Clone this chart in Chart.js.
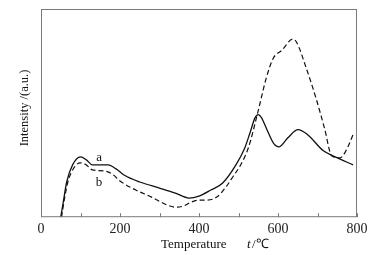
<!DOCTYPE html>
<html>
<head>
<meta charset="utf-8">
<script src="https://cdn.jsdelivr.net/npm/chart.js@4/dist/chart.umd.min.js"></script>
<style>
  html, body { margin: 0; padding: 0; background: #fff; }
  #wrap { width: 376px; height: 255px; }
</style>
</head>
<body>
<div id="wrap"><canvas id="chart1"></canvas></div>
<script>
// curve a (solid)
const tempA = [50, 56, 65, 80, 100, 115, 130, 150, 170, 190, 210, 250, 300, 340, 375, 400, 430, 460, 495, 515, 530, 542, 550, 558, 571, 588, 603, 625, 651, 675, 715, 745, 790];
const intA  = [0, 14, 35, 52, 60, 57, 52, 52, 52, 48, 42, 35, 29, 24, 19, 21, 27, 34, 53, 68, 85, 99, 102, 99, 88, 74, 70, 79, 87, 82, 66, 60, 52];
// curve b (dashed)
const tempB = [52, 58, 68, 85, 100, 115, 130, 160, 180, 200, 240, 280, 320, 340, 360, 380, 400, 420, 445, 470, 487, 504, 525, 550, 570, 588, 610, 637, 647, 670, 698, 718, 736, 757, 772, 791];
const intB  = [0, 15, 35, 50, 54, 52, 47, 46, 43, 36, 27, 20, 12, 10, 11, 15, 17, 17, 20, 31, 41, 51, 69, 106, 138, 158, 166, 177, 174, 150, 116, 88, 61, 59, 66, 83];
const xTicks = [0, 100, 200, 300, 400, 500, 600, 700, 800];

const pts = (xs, ys) => xs.map((x, i) => ({x: x, y: ys[i]}));

const frame = {
    id: 'frame',
    afterDraw(chart) {
        const c = chart.ctx, a = chart.chartArea;
        const xs = chart.scales.x;
        c.save();
        c.strokeStyle = '#7a7a7a';
        c.lineWidth = 1;
        c.strokeRect(a.left + 0.5, a.top + 0.5, a.right - a.left - 1, a.bottom - a.top - 1);
        xTicks.forEach(v => {
            const px = Math.round(xs.getPixelForValue(v)) + 0.5;
            c.beginPath();
            c.moveTo(px, a.bottom);
            c.lineTo(px, a.bottom - 4);
            c.stroke();
        });
        // curve labels
        c.fillStyle = '#111';
        c.font = '13px "Liberation Serif"';
        c.textAlign = 'center';
        c.textBaseline = 'middle';
        c.fillText('a', xs.getPixelForValue(147), chart.scales.y.getPixelForValue(59));
        c.fillText('b', xs.getPixelForValue(147), chart.scales.y.getPixelForValue(34));
        // y title
        c.save();
        c.translate(25, 108);
        c.rotate(-Math.PI / 2);
        c.font = '12.5px "Liberation Serif"';
        c.fillText('Intensity /(a.u.)', 0, 0);
        c.restore();
        // x title
        c.textAlign = 'left';
        c.font = '13px "Liberation Serif"';
        c.fillText('Temperature', 161, 245);
        c.font = 'italic 13px "Liberation Serif"';
        c.fillText('t', 247, 245);
        c.font = '13px "Liberation Serif"';
        c.fillText('/\u2103', 252, 245);
        c.restore();
    }
};

const config = {
    type: 'line',
    data: {
        datasets: [{
            label: 'a',
            borderColor: '#111',
            borderWidth: 1.3,
            pointRadius: 0,
            cubicInterpolationMode: 'monotone',
            data: pts(tempA, intA)
        }, {
            label: 'b',
            borderColor: '#111',
            borderWidth: 1.2,
            borderDash: [5, 3],
            pointRadius: 0,
            cubicInterpolationMode: 'monotone',
            data: pts(tempB, intB)
        }]
    },
    options: {
        responsive: false,
        animation: false,
        layout: { padding: { left: 41, right: 19, top: 9, bottom: 13 } },
        plugins: { legend: { display: false }, tooltip: { enabled: false } },
        scales: {
            x: {
                type: 'linear',
                min: 0,
                max: 800,
                grid: { display: false, drawTicks: false, tickLength: 0 },
                border: { display: false },
                ticks: {
                    stepSize: 200,
                    color: '#222',
                    padding: 4,
                    font: { family: 'Liberation Serif', size: 14 }
                }
            },
            y: {
                display: false,
                min: 0,
                max: 207
            }
        }
    },
    plugins: [frame]
};

const cv = document.getElementById('chart1');
cv.width = 376;
cv.height = 255;
const chart1 = new Chart(cv.getContext('2d'), config);
</script>
</body>
</html>
